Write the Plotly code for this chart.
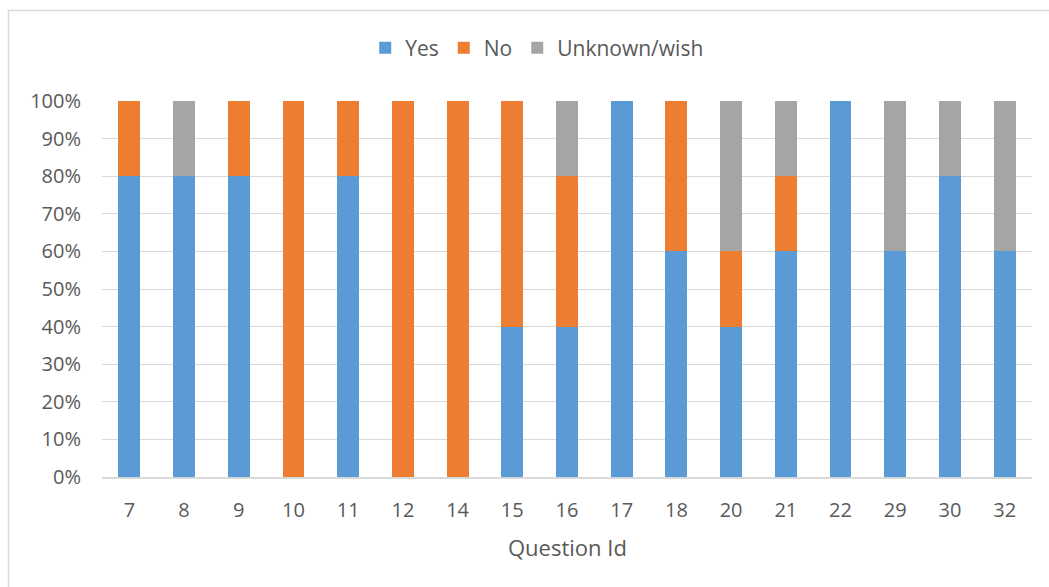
import plotly.graph_objects as go

categories = ["7", "8", "9", "10", "11", "12", "14", "15", "16", "17", "18", "20", "21", "22", "29", "30", "32"]
yes_vals = [80, 80, 80, 0, 80, 0, 0, 40, 40, 100, 60, 40, 60, 100, 60, 80, 60]
no_vals = [20, 0, 20, 100, 20, 100, 100, 60, 40, 0, 40, 20, 20, 0, 0, 0, 0]
unknown_vals = [0, 20, 0, 0, 0, 0, 0, 0, 20, 0, 0, 40, 20, 0, 40, 20, 40]
y_ticks = [0, 10, 20, 30, 40, 50, 60, 70, 80, 90, 100]

W, H = 1049, 587
L, R, T, B = 102, 17, 101, 110
pw, ph = W - L - R, H - T - B

fig = go.Figure()
for name, vals, col in [("Yes", yes_vals, "#5B9BD5"), ("No", no_vals, "#ED7D31"), ("Unknown/wish", unknown_vals, "#A5A5A5")]:
    fig.add_trace(go.Bar(x=categories, y=vals, name=name, marker=dict(color=col, line=dict(width=0))))

font_fam = "Open Sans, Liberation Sans, sans-serif"
fig.update_layout(
    barmode="stack",
    bargap=0.6,
    width=W, height=H,
    margin=dict(l=L, r=R, t=T, b=B),
    paper_bgcolor="white", plot_bgcolor="white",
    font=dict(family=font_fam, color="#595959", size=20),
    legend=dict(orientation="h", x=0.468, xanchor="center", y=1.0 + (101 - 48) / ph, yanchor="middle",
                font=dict(size=21, color="#595959"), traceorder="normal", itemwidth=30),
    xaxis=dict(type="category", showgrid=False, showline=True, linecolor="#D9D9D9", linewidth=2,
               ticks="", tickfont=dict(size=20, color="#595959"), ticklabelstandoff=14),
    yaxis=dict(range=[0, 100], tickvals=y_ticks, ticktext=[f"{v}%" for v in y_ticks],
               showgrid=True, gridcolor="#D9D9D9", gridwidth=1, zeroline=False, showline=False,
               ticks="", ticklen=0, tickfont=dict(size=20, color="#595959"), ticklabelstandoff=20),
    showlegend=True,
)
fig.add_annotation(text="Question Id", xref="paper", yref="paper", x=(567 - L) / pw, y=-(547 - (H - B)) / ph,
                   xanchor="center", yanchor="middle", showarrow=False,
                   font=dict(size=22, color="#595959"))
fig.add_shape(type="rect", xref="paper", yref="paper",
              x0=(8.5 - L) / pw, x1=(1060 - L) / pw,
              y0=-(600 - (H - B)) / ph, y1=((H - B) - 10.5) / ph,
              line=dict(color="#D9D9D9", width=1.5), fillcolor="rgba(0,0,0,0)", layer="below")
fig.write_html("out.html")
